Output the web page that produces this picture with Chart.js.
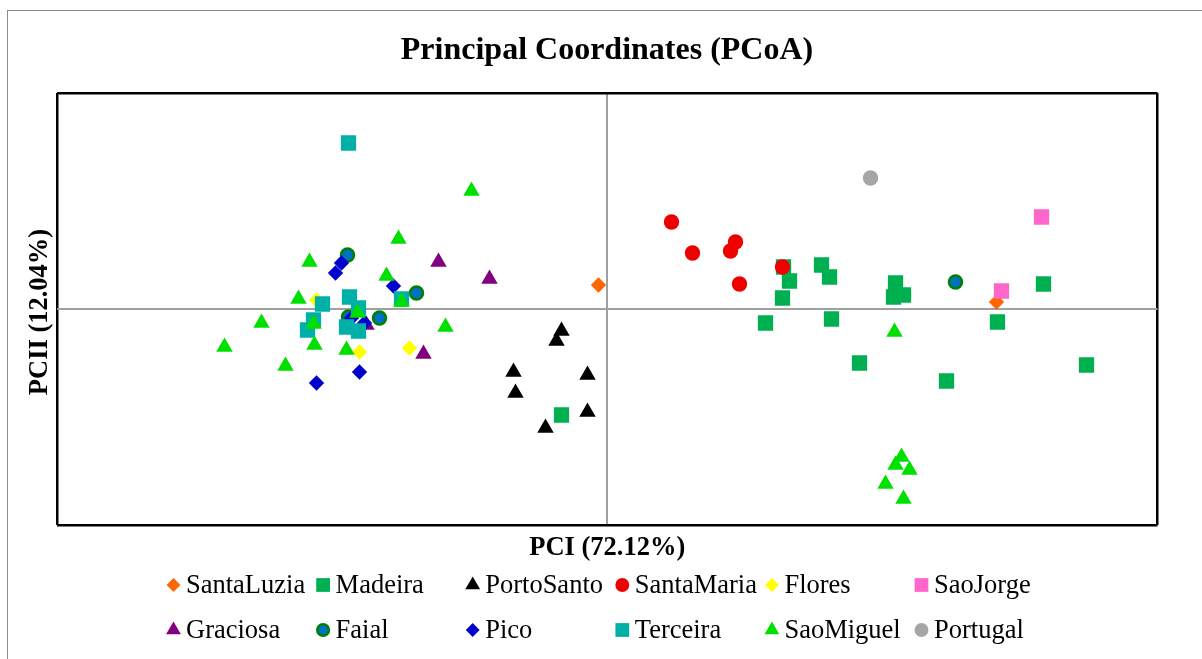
<!DOCTYPE html>
<html>
<head>
<meta charset="utf-8">
<script src="https://cdn.jsdelivr.net/npm/chart.js@4.4.1/dist/chart.umd.min.js"></script>
<style>
  html, body { margin: 0; padding: 0; background: #fff; overflow: hidden; }
  #frame { position: absolute; left: 7px; top: 10px; width: 1300px; height: 800px; border-left: 1.5px solid #8c8c8c; border-top: 1.5px solid #8c8c8c; }
  #wrap { position: absolute; left: 0; top: 0; width: 1202px; height: 659px; }
</style>
</head>
<body>
<div id="frame"></div>
<div id="wrap"><canvas id="pcoa"></canvas></div>
<script>
// PCoA coordinates per population (axis units)
const santaLuzia = [[-0.009, 0.024], [0.389, 0.007]];
const madeira = [[-0.046, -0.106], [0.176, 0.042], [0.182, 0.028], [0.175, 0.011], [0.158, -0.014],
  [0.214, 0.044], [0.222, 0.032], [0.224, -0.010], [0.252, -0.054], [0.288, 0.026], [0.296, 0.014],
  [0.286, 0.012], [0.339, -0.072], [0.390, -0.013], [0.436, 0.025], [0.479, -0.056]];
const portoSanto = [[-0.046, -0.022], [-0.051, -0.032], [-0.094, -0.063], [-0.020, -0.066],
  [-0.092, -0.084], [-0.020, -0.103], [-0.062, -0.119]];
const santaMaria = [[0.064, 0.087], [0.085, 0.056], [0.128, 0.067], [0.123, 0.058], [0.132, 0.025], [0.175, 0.042]];
const flores = [[-0.248, -0.043], [-0.198, -0.039], [-0.291, 0.009]];
const saoJorge = [[0.434, 0.092], [0.394, 0.018]];
const graciosa = [[-0.169, 0.047], [-0.118, 0.030], [-0.184, -0.045], [-0.241, -0.016]];
const faial = [[-0.260, 0.054], [-0.191, 0.016], [-0.228, -0.009], [-0.259, -0.008], [0.348, 0.027]];
const pico = [[-0.266, 0.046], [-0.272, 0.036], [-0.214, 0.023], [-0.256, -0.009], [-0.243, -0.014],
  [-0.248, -0.063], [-0.291, -0.074]];
const terceira = [[-0.259, 0.166], [-0.258, 0.012], [-0.285, 0.005], [-0.249, 0.001], [-0.294, -0.011],
  [-0.300, -0.021], [-0.261, -0.018], [-0.249, -0.022], [-0.206, 0.010]];
const saoMiguel = [[-0.136, 0.118], [-0.209, 0.070], [-0.298, 0.047], [-0.221, 0.033], [-0.309, 0.010],
  [-0.206, 0.007], [-0.250, -0.004], [-0.346, -0.014], [-0.294, -0.015], [-0.162, -0.018],
  [-0.383, -0.038], [-0.293, -0.036], [-0.261, -0.041], [-0.322, -0.057], [0.287, -0.023],
  [0.294, -0.148], [0.288, -0.156], [0.302, -0.161], [0.278, -0.175], [0.296, -0.190]];
const portugal = [[0.263, 0.131]];

const xRange = [-0.5505, 0.55];
const yRange = [-0.216, 0.216];

const series = [
  { name: 'SantaLuzia', pts: santaLuzia, style: 'rectRot', r: 7.7, fill: '#ff6600' },
  { name: 'Madeira', pts: madeira, style: 'rect', r: 10.8, fill: '#00b050' },
  { name: 'PortoSanto', pts: portoSanto, style: 'triangle', r: 9.5, fill: '#000000' },
  { name: 'SantaMaria', pts: santaMaria, style: 'circle', r: 7.7, fill: '#ee0000' },
  { name: 'Flores', pts: flores, style: 'rectRot', r: 7.7, fill: '#ffff00' },
  { name: 'SaoJorge', pts: saoJorge, style: 'rect', r: 10.8, fill: '#ff66cc' },
  { name: 'Graciosa', pts: graciosa, style: 'triangle', r: 9.5, fill: '#800080' },
  { name: 'Faial', pts: faial, style: 'circle', r: 6.5, fill: '#0070c0', border: '#008000', bw: 2.5 },
  { name: 'Pico', pts: pico, style: 'rectRot', r: 7.7, fill: '#0000cc' },
  { name: 'Terceira', pts: terceira, style: 'rect', r: 10.8, fill: '#00b0a8' },
  { name: 'SaoMiguel', pts: saoMiguel, style: 'triangle', r: 9.5, fill: '#00e000' },
  { name: 'Portugal', pts: portugal, style: 'circle', r: 7.7, fill: '#a6a6a6' }
];

const serif = '"Liberation Serif", "Times New Roman", serif';

// title, axis titles and a two-row grid legend like the original
const decorations = {
  id: 'decorations',
  afterDraw(chart) {
    const ctx = chart.ctx;
    const area = chart.chartArea;
    ctx.save();
    ctx.fillStyle = '#000';
    ctx.textAlign = 'center';
    ctx.textBaseline = 'middle';
    ctx.font = 'bold 32px ' + serif;
    ctx.fillText('Principal Coordinates (PCoA)', 607, 51);
    ctx.font = 'bold 26.5px ' + serif;
    ctx.fillText('PCI (72.12%)', (area.left + area.right) / 2, 548);
    ctx.save();
    ctx.translate(40, 312);
    ctx.rotate(-Math.PI / 2);
    ctx.fillText('PCII (12.04%)', 0, 0);
    ctx.restore();

    ctx.font = '26.5px ' + serif;
    ctx.textAlign = 'left';
    series.forEach((s, i) => {
      const col = i % 6, row = Math.floor(i / 6);
      const mx = 173.5 + col * 149.6;
      const my = row === 0 ? 585 : 630;
      ctx.fillStyle = s.fill;
      ctx.strokeStyle = s.border || s.fill;
      ctx.lineWidth = s.bw || 0;
      Chart.helpers.drawPoint(ctx, { pointStyle: s.style, radius: s.r * 0.9, rotation: 0, borderWidth: s.bw || 0 }, mx, my);
      ctx.fillStyle = '#000';
      ctx.fillText(s.name, mx + 12.5, my + 1);
    });
    ctx.restore();
  }
};

const edgeTicks = (min, max) => (scale) => {
  scale.ticks = [{ value: min }, { value: 0 }, { value: max }];
};

new Chart(document.getElementById('pcoa'), {
  type: 'scatter',
  data: {
    datasets: series.map((s, i) => ({
      label: s.name,
      data: s.pts.map(p => ({ x: p[0], y: p[1] })),
      pointStyle: s.style,
      pointRadius: s.r,
      pointHoverRadius: s.r,
      backgroundColor: s.fill,
      borderColor: s.border || s.fill,
      borderWidth: s.bw || 0,
      order: series.length - i
    }))
  },
  options: {
    responsive: true,
    maintainAspectRatio: false,
    animation: false,
    events: [],
    layout: { padding: { left: 57, top: 93, right: 44.5, bottom: 134 } },
    plugins: { legend: { display: false }, title: { display: false }, tooltip: { enabled: false } },
    scales: {
      x: {
        type: 'linear', min: xRange[0], max: xRange[1],
        afterBuildTicks: edgeTicks(xRange[0], xRange[1]),
        ticks: { display: false },
        border: { display: false },
        grid: {
          drawTicks: false,
          color: c => c.tick && c.tick.value === 0 ? '#a0a0a0' : '#000',
          lineWidth: c => c.tick && c.tick.value === 0 ? 2 : 2.5
        }
      },
      y: {
        type: 'linear', min: yRange[0], max: yRange[1],
        afterBuildTicks: edgeTicks(yRange[0], yRange[1]),
        ticks: { display: false },
        border: { display: false },
        grid: {
          drawTicks: false,
          color: c => c.tick && c.tick.value === 0 ? '#a0a0a0' : '#000',
          lineWidth: c => c.tick && c.tick.value === 0 ? 2 : 2.5
        }
      }
    }
  },
  plugins: [decorations]
});
</script>
</body>
</html>
